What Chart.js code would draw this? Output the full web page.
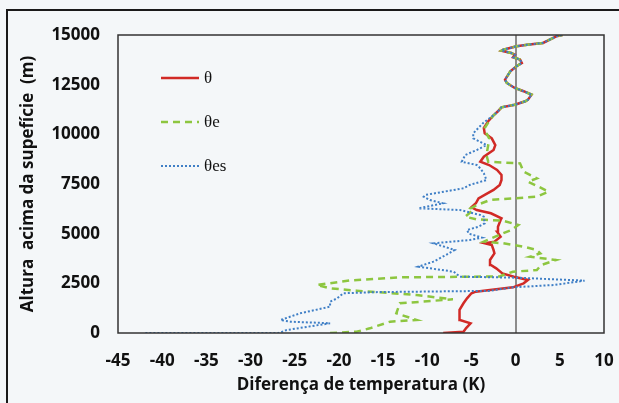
<!DOCTYPE html>
<html>
<head>
<meta charset="utf-8">
<script src="https://cdn.jsdelivr.net/npm/chart.js@4.4.0/dist/chart.umd.min.js"></script>
<style>
  body { margin: 0; background: #f4f7f9; }
  #wrap { position: relative; width: 619px; height: 403px; overflow: hidden; }
  #frame { position: absolute; left: 6px; top: 9px; width: 700px; height: 500px;
           border-top: 2px solid #1a1a1a; border-left: 2px solid #1a1a1a; }
  canvas { position: absolute; left: 0; top: 0; }
</style>
</head>
<body>
<div id="wrap">
  <div id="frame"></div>
  <canvas id="chart" width="619" height="403"></canvas>
</div>
<script>
// Upper part of the profile, where the three curves coincide
const commonAlt = [10960, 11160, 11360, 11490, 11665, 11745, 12000, 12170, 12335, 12585, 12750, 13170,
    13425, 13590, 13760, 13880, 14010, 14095, 14210, 14260, 14430, 14510, 14600, 14930, 15000];
const commonDiff = [-2.5, -2.0, -1.6, -0.1, 1.1, 1.4, 1.8, 0.9, -0.1, -1.0, -1.2, -0.6,
    0.1, 0.7, 0.5, -0.3, -0.1, -0.5, -1.6, -1.4, 0.1, 1.3, 3.1, 4.6, 5.3];

// θ
const thetaAlt = [0, 60, 250, 490, 655, 820, 1160, 1495, 1745, 2000, 2080, 2165, 2300, 2500, 2670,
    2835, 3000, 3255, 3425, 3675, 4010, 4180, 4430, 4515, 4600, 4850, 5100, 5350, 5690, 5775, 6025,
    6190, 6330, 6530, 6780, 6950, 7200, 7450, 7700, 7955, 8205, 8455, 8620, 8875, 9210, 9460, 9800,
    10050, 10320, 10660];
const thetaDiff = [-8.2, -5.9, -5.6, -5.1, -6.3, -6.4, -6.3, -5.9, -5.5, -5.0, -4.5, -2.9, -0.3, 0.9, 1.4,
    -0.2, -1.5, -2.2, -2.8, -2.9, -2.4, -2.5, -2.7, -3.5, -2.4, -1.7, -2.1, -2.0, -1.7, -1.6, -2.8,
    -4.4, -5.0, -4.5, -4.2, -3.5, -2.5, -1.8, -1.6, -1.6, -2.1, -3.0, -4.0, -3.6, -2.5, -2.3, -2.7,
    -3.5, -3.6, -3.1];

// θe
const thetaEAlt = [0, 65, 235, 570, 655, 990, 1495, 1695, 1910, 2130, 2250, 2415, 2650, 2800, 2850,
    2920, 3085, 3170, 3425, 3675, 3840, 4010, 4180, 4345, 4515, 4600, 5020, 5185, 5435, 5650, 5720,
    5855, 6190, 6275, 6440, 6695, 6860, 7110, 7365, 7615, 7785, 8120, 8540, 8620, 8960, 9460, 9800,
    10050, 10320, 10660];
const thetaEDiff = [-21, -18, -16.5, -14.2, -11.2, -13.5, -13.1, -7.1, -11.2, -18, -21, -22.5, -18.7, -13, -1.8,
    -1.4, -0.3, 2.4, 2.9, 4.6, 1.6, 2.8, 2.4, 0.9, -1.4, -3.6, -1.4, -0.5, 0.3, -1.4, -4.4,
    -5.7, -4.8, -5.1, -4.4, -2.9, 2.4, 3.7, 2.6, 1.4, 2.4, 0.9, 0.5, -3.1, -3.3, -3.1, -3.0,
    -3.3, -3.5, -3.0];

// θes
const thetaEsAlt = [0, 0, 35, 150, 490, 570, 655, 990, 1325, 1575, 1745, 2000, 2060, 2120, 2300, 2415,
    2635, 2785, 2835, 3085, 3340, 3590, 3925, 4180, 4515, 4680, 4800, 5000, 5185, 5350, 5520, 5855,
    5940, 6190, 6275, 6530, 6695, 6860, 6950, 7285, 7450, 7700, 8040, 8290, 8455, 8620, 8960, 9210,
    9460, 9800, 10050, 10560];
const thetaEsDiff = [-41.9, -26.8, -26.6, -25.9, -21.0, -25.5, -26.6, -24.4, -21.0, -21.0, -20.2, -19.5, -15.5, -3.0, -0.3, 4.3,
    7.8, 0.1, -6.3, -7.0, -11.0, -9.3, -7.9, -6.9, -9.3, -5.2, -3.8, -5.3, -5.5, -4.2, -3.5, -3.6,
    -4.0, -6.3, -11.0, -8.2, -9.7, -10.4, -10.2, -5.9, -5.2, -3.3, -3.6, -4.0, -4.4, -6.1, -5.7, -4.4,
    -3.3, -4.8, -4.8, -3.7];

const xTicks = { min: -45, max: 10, step: 5 };
const yTicks = { min: 0, max: 15000, step: 2500 };

function toPoints(alt, diff) {
    const a = alt.concat(commonAlt);
    const d = diff.concat(commonDiff);
    return a.map((h, i) => ({ x: d[i], y: h }));
}

const tickFont = { family: '"Open Sans", sans-serif', size: 17, weight: 'bold' };

// legend drawn inside the plot, top left
const inlineLegend = {
    id: 'inlineLegend',
    afterDraw(chart) {
        const { ctx, chartArea: a } = chart;
        chart.data.datasets.forEach((ds, i) => {
            const y = a.top + 43 + i * 44;
            const x0 = a.left + 43;
            ctx.save();
            ctx.strokeStyle = ds.borderColor;
            ctx.lineWidth = ds.borderWidth;
            ctx.setLineDash(ds.borderDash || []);
            ctx.beginPath();
            ctx.moveTo(x0, y);
            ctx.lineTo(x0 + 38, y);
            ctx.stroke();
            ctx.setLineDash([]);
            ctx.fillStyle = '#111';
            ctx.font = '17px "Liberation Serif", serif';
            ctx.textBaseline = 'middle';
            ctx.fillText(ds.label, x0 + 43, y + 1);
            ctx.restore();
        });
    }
};

const plotFrame = {
    id: 'plotFrame',
    afterDatasetsDraw(chart) {
        const { ctx, chartArea: a } = chart;
        ctx.save();
        ctx.strokeStyle = '#333';
        ctx.lineWidth = 1.5;
        ctx.strokeRect(a.left, a.top, a.width, a.height);
        ctx.restore();
    }
};

new Chart(document.getElementById('chart'), {
    type: 'scatter',
    data: {
        datasets: [
            { label: 'θ', data: toPoints(thetaAlt, thetaDiff), borderColor: '#d12a26',
              borderWidth: 2.5, order: 3 },
            { label: 'θe', data: toPoints(thetaEAlt, thetaEDiff), borderColor: '#8dc640',
              borderWidth: 2.5, borderDash: [7, 5], order: 2 },
            { label: 'θes', data: toPoints(thetaEsAlt, thetaEsDiff), borderColor: '#3f7fc6',
              borderWidth: 2, borderDash: [2, 2], order: 1 }
        ]
    },
    options: {
        responsive: false,
        animation: false,
        showLine: true,
        elements: { point: { radius: 0 }, line: { tension: 0, fill: false } },
        layout: { padding: { top: 35, right: 15, left: 0, bottom: 0 } },
        plugins: { legend: { display: false }, tooltip: { enabled: false } },
        scales: {
            x: {
                type: 'linear', min: xTicks.min, max: xTicks.max,
                ticks: { stepSize: xTicks.step, color: '#111', font: tickFont, padding: 18 },
                grid: {
                    drawTicks: false, lineWidth: 2,
                    color: c => (c.tick && c.tick.value === 0 ? '#8c8c8c' : 'transparent')
                },
                border: { display: false },
                title: { display: true, text: 'Diferença de temperatura (K)', color: '#111',
                         font: tickFont, padding: { bottom: 8 } },
                // keep the label padding from eating into the plot width
                afterFit: s => { s.height = 70; s.paddingLeft = 0; s.paddingRight = 0; }
            },
            y: {
                type: 'linear', min: yTicks.min, max: yTicks.max,
                ticks: { stepSize: yTicks.step, color: '#111', font: tickFont, padding: 18,
                         callback: v => String(v) },
                grid: { display: false, drawTicks: false },
                border: { display: false },
                title: { display: true, text: 'Altura  acima da supefície  (m)', color: '#111',
                         font: tickFont, padding: { top: 18 } },
                afterFit: s => { s.width = 118; }
            }
        }
    },
    plugins: [inlineLegend, plotFrame]
});
</script>
</body>
</html>
